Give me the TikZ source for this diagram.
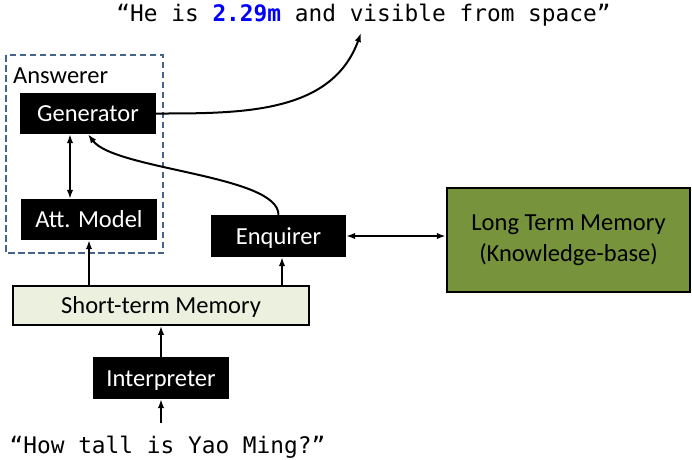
\documentclass[tikz,border=0pt]{standalone}
\usepackage{fontspec}
\setmainfont{Carlito}
\newfontfamily\codefont{DejaVu Sans Mono}
\usetikzlibrary{arrows.meta}

\definecolor{answerblue}{HTML}{44648C}
\definecolor{ltmgreen}{HTML}{77933C}
\definecolor{stmgreen}{HTML}{EBF1DE}
\definecolor{quoteblue}{HTML}{0000FF}

\begin{document}
\begin{tikzpicture}[> = {Latex[length = 9pt, width = 6.5pt]}, x = 1pt, y = -1pt,
	module/.style = {fill = black, text = white, inner sep = 0pt,
		minimum width = 136pt, minimum height = 41pt,
		text height = 16pt, text depth = 0pt,
		font = \fontsize{24.5}{30}\selectfont},
	memory/.style = {draw = black, line width = 1.8pt, inner sep = 0pt, align = center,
		font = \fontsize{24.5}{31}\selectfont},
	speech/.style = {inner sep = 0pt, font = \codefont\fontsize{22.8}{27}\selectfont},
	link/.style = {line width = 2pt}]

	\useasboundingbox (0, 0) rectangle (692, 459);

	% Answerer

	\draw [answerblue, line width = 2.5pt, dash pattern = on 6.5pt off 3.5pt] (6, 55) rectangle (163, 253);
	\node [anchor = base west, inner sep = 0pt, font = \fontsize{24.5}{30}\selectfont] (answerer) at (13, 83) {Answerer};
	\node [module] (gen) at (88, 113.5) {Generator};
	\node [module] (att) at (89, 219.5) {Att. Model};

	% Modules

	\node [module, minimum width = 135pt, minimum height = 42pt] (enq) at (278.5, 236) {Enquirer};
	\node [module, minimum height = 42pt] (int) at (161, 378) {Interpreter};

	% Memories

	\node [memory, fill = stmgreen, minimum width = 296pt, minimum height = 39pt,
		text height = 16pt, text depth = 0pt] (stm) at (161, 305.5) {Short-term Memory};
	\node [memory, fill = ltmgreen, line width = 2.5pt, minimum width = 243pt, minimum height = 104pt] (ltm) at (568.5, 240) {Long Term Memory\\(Knowledge-base)};

	% Sentences

	\node [speech, anchor = base] (answer) at (363.5, 21) {“He is \textcolor{quoteblue}{\textbf{2.29m}} and visible from space”};
	\node [speech, anchor = base] (question) at (167.5, 453) {“How tall is Yao Ming?”};
	\coordinate (tip) at (361, 33);

	% Arrows

	\draw [link, ->] (gen.east) to [out = 0, in = -110] (tip);
	\draw [link, <->] ([xshift = -18pt] gen.south) -- ([xshift = -19pt] att.north);
	\draw [link, ->] (enq.north) .. controls (278.5, 175) and (115, 170) .. (gen.south);
	\draw [link, <->] (enq.east) -- (enq.east -| ltm.west);
	\draw [link, ->] (stm.north -| att.south) -- (att.south);
	\draw [link, ->] ([xshift = 3.5pt] stm.north -| enq.south) -- ([xshift = 3.5pt] enq.south);
	\draw [link, ->] (int.north) -- (stm.south);
	\draw [link, ->] ([yshift = 12pt] question.north -| int.south) -- (int.south);

\end{tikzpicture}
\end{document}
